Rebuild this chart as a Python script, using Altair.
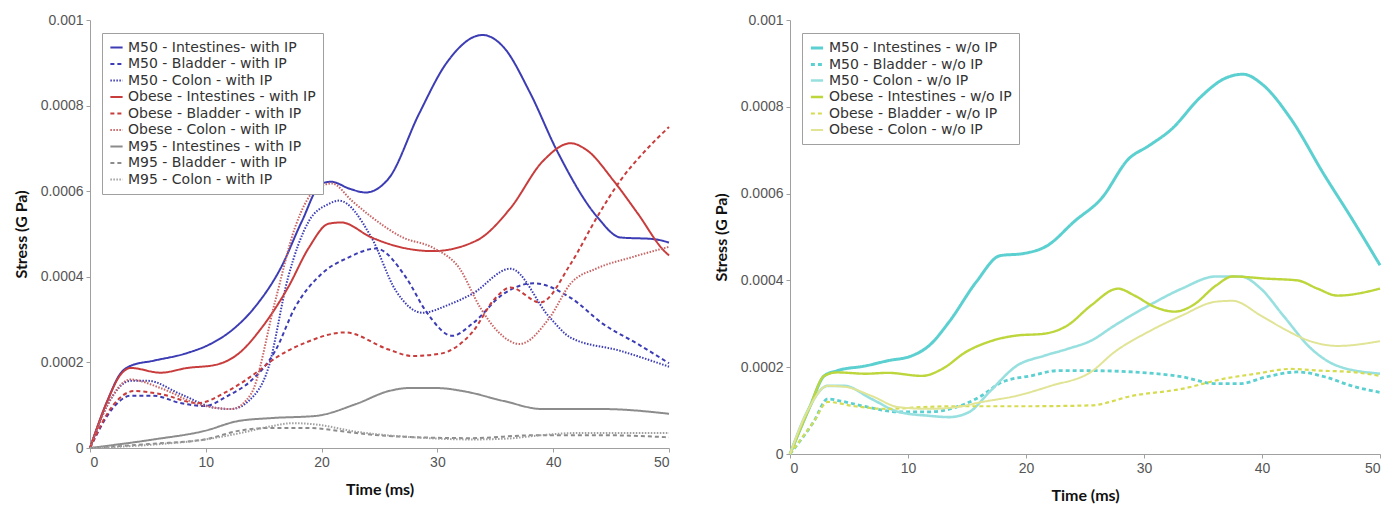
import altair as alt
import pandas as pd

# ---------------- Left panel: with IP (values in 1e-4 GPa) ----------------
L_NAMES = [
    "M50 - Intestines- with IP", "M50 - Bladder - with IP", "M50 - Colon - with IP",
    "Obese - Intestines - with IP", "Obese - Bladder - with IP", "Obese - Colon - with IP",
    "M95 - Intestines - with IP", "M95 - Bladder - with IP", "M95 - Colon - with IP",
]
L_COLORS = ["#3c3cb4", "#3c3cb4", "#3c3cb4", "#c83c3c", "#c83c3c", "#c86464",
            "#8c8c8c", "#8c8c8c", "#a0a0a0"]

m50_int_t = [0, 1.5, 2.6, 3.5, 5.5, 8.4, 10.4, 12.2, 14.2, 16.5, 18.3, 20, 20.8, 22.5, 23.8, 25.8,
             28.4, 30.8, 33.9, 35.7, 38, 40.3, 43.8, 45.8, 48.7, 50]
m50_int_v = [0, 1.1, 1.73, 1.92, 2.04, 2.22, 2.43, 2.74, 3.28, 4.22, 5.3, 6.18, 6.22, 6.05, 5.97, 6.3,
             7.8, 9.0, 9.65, 9.37, 8.3, 6.96, 5.4, 4.92, 4.88, 4.8]
m50_bla_t = [0, 2, 3.5, 5.5, 7.8, 9.9, 11.9, 13.9, 16, 17.7, 20, 22.3, 24.7, 27.3, 29, 31.3, 33,
             35.7, 38.3, 41.5, 44.3, 47.3, 50]
m50_bla_v = [0, 0.94, 1.22, 1.22, 1.05, 0.98, 1.22, 1.57, 2.27, 3.28, 4.07, 4.45, 4.66, 3.98, 3.2,
             2.62, 2.9, 3.6, 3.85, 3.51, 2.9, 2.43, 1.98]
m50_col_t = [0, 1.5, 3.5, 5, 7.8, 10.8, 12.2, 13.7, 15.4, 17.1, 18.9, 20.6, 21.5, 24.3, 26.4, 28.7,
             31, 33, 36.3, 39.7, 41.5, 45.8, 50]
m50_col_v = [0, 1.0, 1.57, 1.57, 1.26, 0.94, 0.91, 1.1, 1.87, 3.98, 5.3, 5.7, 5.78, 4.92, 3.68, 3.16,
             3.35, 3.6, 4.19, 3.05, 2.58, 2.27, 1.9]
ob_int_t = [0, 1.5, 2.6, 3.5, 6.1, 8.4, 10.8, 12.8, 14.8, 17.1, 18.9, 20.6, 21.7, 24.3, 27, 29.6,
            33.4, 36.3, 39.1, 41.5, 42.9, 45.2, 47.3, 49.6, 50]
ob_int_v = [0, 1.1, 1.7, 1.87, 1.76, 1.87, 1.94, 2.2, 2.8, 3.75, 4.68, 5.24, 5.27, 4.92, 4.68, 4.6,
            4.85, 5.6, 6.7, 7.12, 6.96, 6.25, 5.48, 4.6, 4.5]
ob_bla_t = [0, 2, 3.8, 6.1, 9.3, 11.9, 14.2, 16, 18.6, 22, 25.8, 27.8, 30.2, 33, 35, 36.3, 38.9,
            41.5, 43.8, 45.8, 47.8, 50]
ob_bla_v = [0, 1.0, 1.33, 1.26, 1.05, 1.33, 1.73, 2.1, 2.46, 2.7, 2.3, 2.15, 2.2, 2.7, 3.5, 3.75, 3.4,
            4.3, 5.4, 6.25, 6.9, 7.5]
ob_col_t = [0, 1.5, 3.5, 6.1, 9.3, 12.2, 13.9, 16, 17.7, 19.7, 20.9, 22.6, 24.3, 27, 29.6, 31.9, 33.7,
            35.3, 37.1, 39.7, 41.5, 43.8, 46.7, 50]
ob_col_v = [0, 1.0, 1.6, 1.4, 1.03, 0.91, 1.26, 3.44, 5.15, 6.09, 6.18, 5.78, 5.4, 4.92, 4.68, 4.2,
            3.28, 2.7, 2.43, 3.05, 3.84, 4.2, 4.45, 4.7]
m95_int_t = [0, 5.5, 9.9, 12.8, 15.7, 19.5, 23, 25.8, 27.5, 30, 32.2, 35.7, 39.1, 44.3, 50]
m95_int_v = [0, 0.2, 0.4, 0.63, 0.7, 0.75, 1.03, 1.33, 1.4, 1.4, 1.33, 1.1, 0.91, 0.91, 0.8]
m95_bla_t = [0, 5.5, 9.9, 12.8, 15.7, 18.6, 23, 25.8, 32.8, 38.6, 44, 50]
m95_bla_v = [0, 0.1, 0.2, 0.4, 0.47, 0.47, 0.35, 0.28, 0.23, 0.3, 0.3, 0.25]
m95_col_t = [0, 5.5, 10, 13, 15.5, 17.5, 19.5, 23, 28, 33, 36, 39, 42, 50]
m95_col_v = [0, 0.08, 0.2, 0.35, 0.5, 0.58, 0.55, 0.38, 0.25, 0.2, 0.22, 0.3, 0.35, 0.35]

L_T = [m50_int_t, m50_bla_t, m50_col_t, ob_int_t, ob_bla_t, ob_col_t, m95_int_t, m95_bla_t, m95_col_t]
L_V = [m50_int_v, m50_bla_v, m50_col_v, ob_int_v, ob_bla_v, ob_col_v, m95_int_v, m95_bla_v, m95_col_v]
L_DASH = [[1, 0], [4, 3], [1.5, 1.5]] * 3
L_WIDTH = [2, 2, 1.8] * 3

# ---------------- Right panel: w/o IP ----------------
R_NAMES = [
    "M50 - Intestines - w/o IP", "M50 - Bladder - w/o IP", "M50  - Colon - w/o IP",
    "Obese - Intestines - w/o IP", "Obese - Bladder - w/o IP", "Obese - Colon - w/o IP",
]
R_COLORS = ["#5cd0d0", "#5cd0d0", "#98e0e0", "#bcd63c", "#d6dc50", "#e0e494"]

r_m50_int_t = [0, 1.7, 2.9, 4, 6.4, 8.3, 10.3, 11.8, 13.5, 15.8, 17.8, 19.8, 21.8, 24.1, 26.4, 28.7,
               30.4, 32.4, 34.7, 36.9, 38.4, 40.1, 42.4, 45.3, 47.6, 50]
r_m50_int_v = [0, 1.1, 1.8, 1.92, 2.03, 2.15, 2.26, 2.5, 3.05, 3.97, 4.57, 4.62, 4.8, 5.36, 5.89, 6.8,
               7.1, 7.5, 8.2, 8.66, 8.75, 8.5, 7.74, 6.42, 5.43, 4.35]
r_m50_bla_t = [0, 2, 3.2, 4.3, 6.6, 9.2, 11.8, 14.1, 16.1, 18, 20.4, 22.7, 25.5, 29, 33.2, 36.1, 38.1,
               40.4, 43, 45.3, 47.6, 50]
r_m50_bla_v = [0, 0.74, 1.27, 1.22, 1.08, 0.97, 0.97, 1.08, 1.32, 1.66, 1.8, 1.92, 1.92, 1.89, 1.78,
               1.62, 1.62, 1.78, 1.89, 1.78, 1.57, 1.42]
r_m50_col_t = [0, 1.5, 3.2, 4.6, 6.9, 9.2, 11.8, 13.5, 15.2, 16.9, 19.2, 21.5, 23.5, 25.5, 27.5, 30.4,
               33.2, 36.1, 38.2, 39.9, 41.8, 44.2, 46.4, 50]
r_m50_col_v = [0, 1.0, 1.57, 1.57, 1.27, 0.97, 0.88, 0.85, 0.97, 1.43, 2.03, 2.26, 2.42, 2.61, 2.96,
               3.42, 3.81, 4.09, 4.09, 3.81, 3.19, 2.42, 2.03, 1.85]
r_ob_int_t = [0, 1.7, 2.9, 4, 6.4, 8.3, 11.2, 12.9, 14.9, 16.9, 19.2, 21.5, 23.5, 25.5, 27.8, 29.2,
              30.9, 32.6, 34.1, 36.1, 37.5, 40.4, 43, 44.7, 46.4, 50]
r_ob_int_v = [0, 1.1, 1.8, 1.88, 1.85, 1.87, 1.8, 1.96, 2.35, 2.59, 2.73, 2.77, 2.96, 3.42, 3.81, 3.65,
              3.39, 3.28, 3.42, 3.88, 4.09, 4.04, 4.0, 3.81, 3.65, 3.81]
r_ob_bla_t = [0, 2, 3.2, 5.5, 8.3, 11.2, 14.1, 20, 25.5, 29, 33.2, 36.7, 39.5, 42.4, 45, 47.6, 50]
r_ob_bla_v = [0, 0.74, 1.2, 1.1, 1.04, 1.08, 1.1, 1.1, 1.12, 1.34, 1.5, 1.73, 1.85, 1.96, 1.92, 1.89, 1.8]
r_ob_col_t = [0, 1.5, 3.2, 4.6, 6.9, 9.2, 11.8, 14.1, 16.3, 19.2, 22.1, 25.5, 27.5, 30.4, 33.2, 36.1,
              37.5, 39.9, 41.8, 44.2, 46.4, 50]
r_ob_col_v = [0, 1.0, 1.57, 1.55, 1.34, 1.08, 1.04, 1.08, 1.2, 1.34, 1.57, 1.89, 2.35, 2.82, 3.19, 3.51,
              3.53, 3.19, 2.89, 2.59, 2.49, 2.6]

R_T = [r_m50_int_t, r_m50_bla_t, r_m50_col_t, r_ob_int_t, r_ob_bla_t, r_ob_col_t]
R_V = [r_m50_int_v, r_m50_bla_v, r_m50_col_v, r_ob_int_v, r_ob_bla_v, r_ob_col_v]
R_DASH = [[1, 0], [4, 3], [1, 0]] * 2
R_WIDTH = [3, 2, 1.5] * 2

X_TICKS = [0, 10, 20, 30, 40, 50]
Y_TICKS = [0, 0.0002, 0.0004, 0.0006, 0.0008, 0.001]


def frame(names, ts, vs):
    rows = []
    for i, (n, t, v) in enumerate(zip(names, ts, vs)):
        for a, b in zip(t, v):
            rows.append({"series": n, "order": i, "t": a, "v": b * 1e-4})
    return pd.DataFrame(rows)


def panel(names, ts, vs, colors, dashes, widths, w, h):
    df = frame(names, ts, vs)
    leg = alt.Legend(orient="none", legendX=12, legendY=13)
    return alt.Chart(df).mark_line(interpolate="monotone").encode(
        x=alt.X("t:Q", title="Time (ms)", scale=alt.Scale(domain=[0, 50], nice=False),
                axis=alt.Axis(values=X_TICKS, format="d")),
        y=alt.Y("v:Q", title="Stress (G Pa)", scale=alt.Scale(domain=[0, 0.001], nice=False),
                axis=alt.Axis(values=Y_TICKS, labelExpr="format(datum.value, '~g')")),
        color=alt.Color("series:N", scale=alt.Scale(domain=names, range=colors),
                        sort=names, title=None, legend=leg),
        strokeDash=alt.StrokeDash("series:N", scale=alt.Scale(domain=names, range=dashes),
                                  sort=names, title=None, legend=leg),
        strokeWidth=alt.StrokeWidth("series:N", scale=alt.Scale(domain=names, range=widths),
                                    legend=None),
        detail="series:N",
    ).properties(width=w, height=h)


left = panel(L_NAMES, L_T, L_V, L_COLORS, L_DASH, L_WIDTH, 579, 428)
right = panel(R_NAMES, R_T, R_V, R_COLORS, R_DASH, R_WIDTH, 590, 434)

chart = alt.hconcat(left, right, spacing=40).resolve_scale(
    color="independent", strokeDash="independent", strokeWidth="independent"
).configure_view(stroke=None).configure_axis(
    grid=False, domainColor="#a0a0a0", tickColor="#a0a0a0", tickSize=4,
    labelFont="Liberation Sans", labelFontSize=14, labelColor="#555555",
    titleFont="Lato", titleFontSize=16, titleFontWeight="bold", titleColor="#111111",
    labelPadding=3,
).configure_axisY(titlePadding=11).configure_axisX(titlePadding=12).configure_legend(
    fillColor="white", strokeColor="#a0a0a0", padding=7, labelFont="DejaVu Sans",
    labelFontSize=14, labelColor="#333333", symbolType="stroke", symbolStrokeWidth=2,
    symbolSize=150, rowPadding=1.5, labelLimit=400, cornerRadius=0,
).properties(padding={"left": 5, "top": 5, "right": 5, "bottom": 5})

chart.save("out.html", embed_options={"renderer": "svg", "actions": False})
